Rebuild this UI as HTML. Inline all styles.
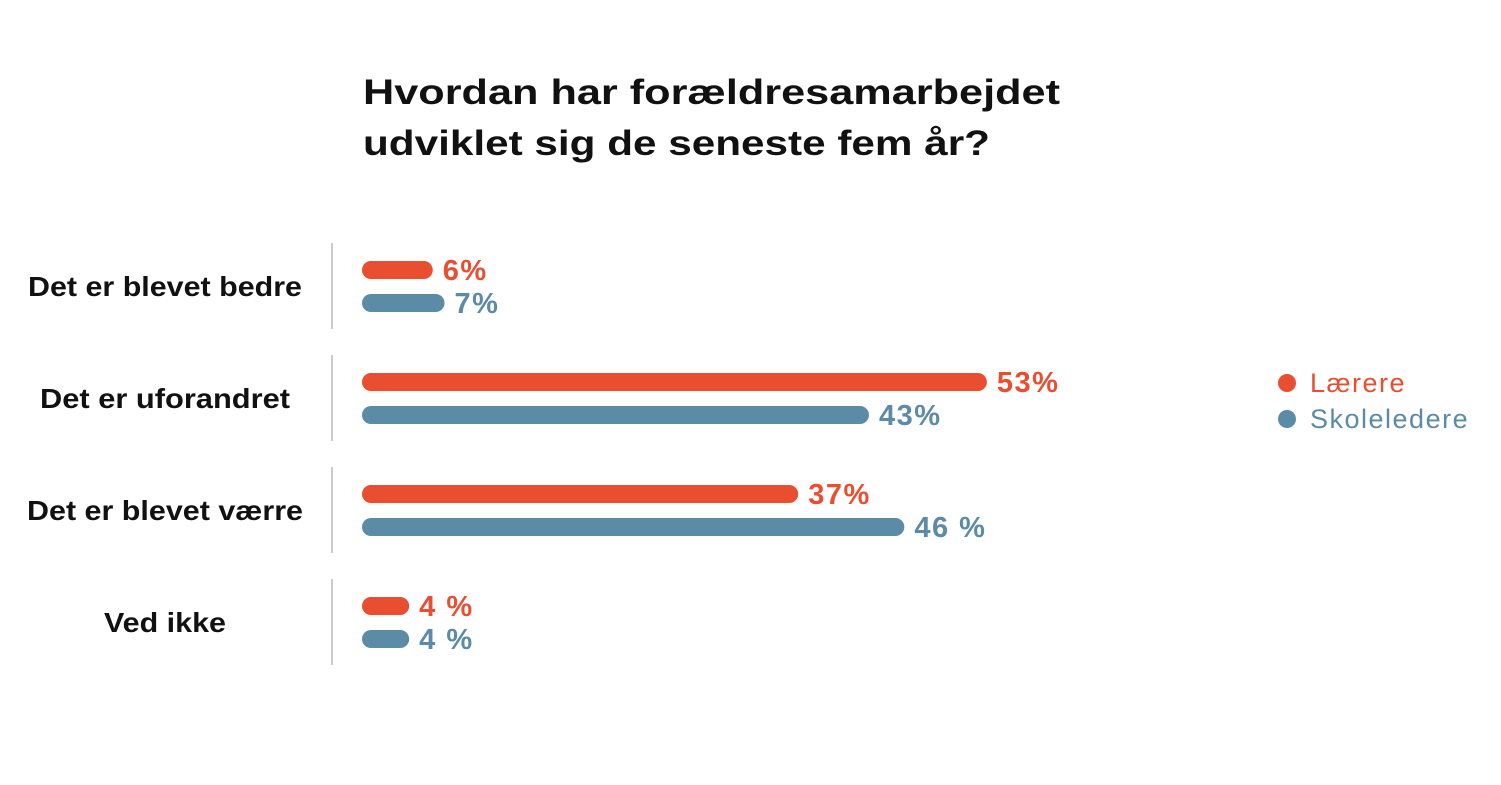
<!DOCTYPE html>
<html><head><meta charset="utf-8">
<style>
body{margin:0;background:#fff;width:1501px;height:780px;overflow:hidden;font-family:"Liberation Sans",sans-serif;}
svg text{font-family:"Liberation Sans",sans-serif;font-weight:bold;}
</style></head>
<body>
<svg width="1501" height="780">
<text x="363" y="104" font-size="35" fill="#111" textLength="697" lengthAdjust="spacingAndGlyphs">Hvordan har forældresamarbejdet</text>
<text x="363" y="155" font-size="35" fill="#111" textLength="627" lengthAdjust="spacingAndGlyphs">udviklet sig de seneste fem år?</text>
<g id="plot"></g>
<g>
<circle cx="1287" cy="383" r="9" fill="#E84E2F"/>
<text x="1310" y="392" font-size="27" letter-spacing="1.5" fill="#E84E2F" style="font-weight:normal">Lærere</text>
<circle cx="1287" cy="419" r="9" fill="#5B8BA6"/>
<text x="1310" y="428" font-size="27" letter-spacing="1.5" fill="#5B8BA6" style="font-weight:normal">Skoleledere</text>
</g>
</svg>
<script>
const categories=["Det er blevet bedre","Det er uforandret","Det er blevet værre","Ved ikke"];
const laerere=[6,53,37,4];
const skoleledere=[7,43,46,4];
const laererLabels=["6%","53%","37%","4 %"];
const skolelederLabels=["7%","43%","46 %","4 %"];
const categoryWidths=[274,250,276,122];
const NS="http://www.w3.org/2000/svg";
const g=document.getElementById('plot');
const x0=362, scale=11.79;
function xs(v){return x0+v*scale;}
function groupY(i){return 287+i*112;}
function mk(t,a){const e=document.createElementNS(NS,t);for(const k in a)e.setAttribute(k,a[k]);g.appendChild(e);return e;}
categories.forEach((c,i)=>{
  const cy=groupY(i);
  const w=categoryWidths[i];
  const t=mk('text',{x:165-w/2,y:cy+9,'font-size':28,fill:'#111',textLength:w,lengthAdjust:'spacingAndGlyphs'});
  t.textContent=c;
  
  
  const l=mk('line',{x1:332,x2:332,y1:cy-44,y2:cy+42,stroke:'#bbb','stroke-width':1.5});
  
  
  [[laerere,laererLabels,'#E84E2F',-17],[skoleledere,skolelederLabels,'#5B8BA6',16]].forEach(([vals,labs,col,dy],s)=>{
    const y=cy+dy, xe=xs(vals[i]);
    const b=mk('rect',{x:x0,y:y-9,width:xe-x0,height:18,rx:9,fill:col});
    
    
    const v=mk('text',{x:xe+10,y:y+10,'font-size':29,'letter-spacing':1.5,fill:col});
    v.textContent=labs[i];
    
    
  });
});
</script>
</body></html>
